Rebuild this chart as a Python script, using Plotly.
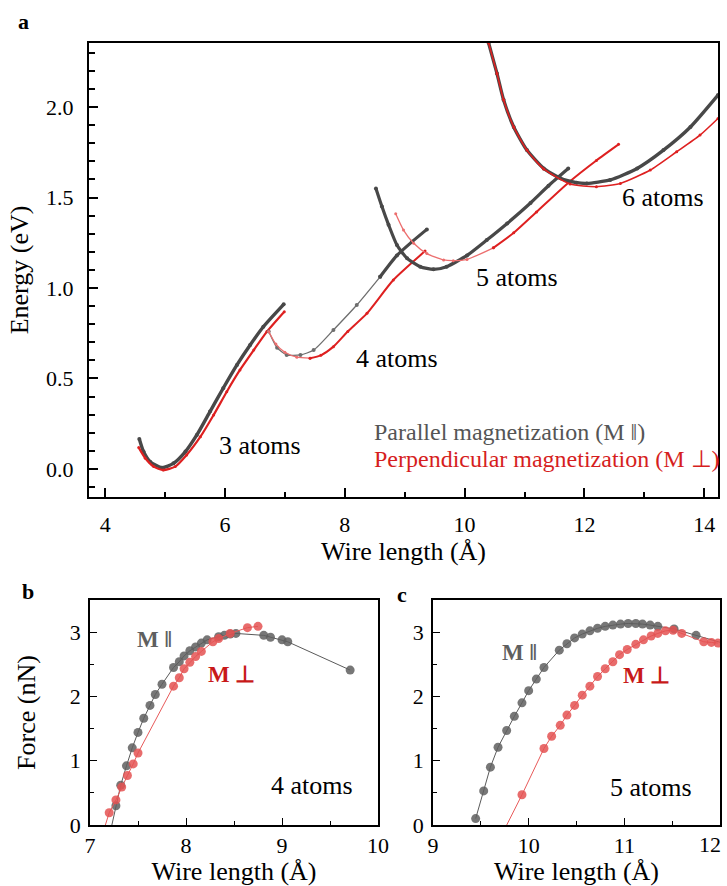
import plotly.graph_objects as go

W, H = 727, 886
FONT = "Liberation Serif, Times New Roman, serif"

GRAY = "rgb(72,72,72)"
GRAY_THIN = "rgb(110,110,110)"
RED = "rgb(222,32,32)"
RED_THIN = "rgb(236,110,110)"
GRAY_DOT = "rgba(95,95,95,0.85)"
RED_DOT = "rgba(228,82,82,0.85)"

# ---- Panel a: energy vs wire length (eV) ----
par3_x = [4.57, 4.64, 4.75, 4.95, 5.14, 5.34, 5.53, 5.75, 5.97, 6.20, 6.42, 6.64, 6.98]
par3_y = [0.166, 0.096, 0.040, 0.007, 0.031, 0.096, 0.188, 0.317, 0.446, 0.575, 0.685, 0.786, 0.910]
perp3_x = [4.56, 4.67, 4.81, 4.97, 5.17, 5.36, 5.59, 5.81, 6.03, 6.25, 6.48, 6.70, 6.99]
perp3_y = [0.118, 0.059, 0.013, -0.006, 0.013, 0.077, 0.178, 0.298, 0.427, 0.547, 0.657, 0.759, 0.869]

par4_x = [6.73, 6.87, 7.03, 7.26, 7.48, 7.81, 8.20, 8.59, 8.87, 9.12, 9.37]
par4_y = [0.760, 0.670, 0.630, 0.630, 0.657, 0.768, 0.906, 1.062, 1.180, 1.255, 1.324]
perp4_x = [6.73, 6.85, 7.00, 7.20, 7.42, 7.60, 7.81, 8.05, 8.37, 8.81, 9.34]
perp4_y = [0.760, 0.690, 0.645, 0.618, 0.612, 0.628, 0.676, 0.760, 0.860, 1.044, 1.204]

par5_x = [8.52, 8.62, 8.73, 8.87, 9.04, 9.26, 9.48, 9.70, 10.04, 10.37, 10.71, 11.10, 11.40, 11.73]
par5_y = [1.550, 1.450, 1.350, 1.238, 1.164, 1.118, 1.103, 1.118, 1.180, 1.265, 1.357, 1.470, 1.565, 1.660]
perp5_x = [8.85, 8.98, 9.15, 9.37, 9.65, 9.81, 10.04, 10.48, 10.82, 11.20, 11.76, 12.20, 12.57]
perp5_y = [1.410, 1.320, 1.247, 1.190, 1.155, 1.151, 1.158, 1.222, 1.305, 1.420, 1.590, 1.705, 1.794]

par6_x = [10.40, 10.54, 10.65, 10.82, 11.04, 11.32, 11.60, 11.87, 12.04, 12.43, 12.88, 13.32, 13.77, 14.23]
par6_y = [2.355, 2.186, 2.040, 1.890, 1.762, 1.661, 1.606, 1.582, 1.578, 1.597, 1.661, 1.762, 1.890, 2.066]
perp6_x = [10.40, 10.54, 10.65, 10.82, 11.04, 11.32, 11.76, 12.20, 12.60, 13.10, 13.54, 13.93, 14.23]
perp6_y = [2.355, 2.186, 2.040, 1.890, 1.762, 1.658, 1.575, 1.560, 1.578, 1.652, 1.753, 1.845, 1.937]

# ---- Panel b: force for the 4-atom wire (nN) ----
fb_par_x = [7.21, 7.27, 7.32, 7.38, 7.44, 7.50, 7.56, 7.625, 7.68, 7.75, 7.87, 7.93, 7.98, 8.04,
            8.10, 8.16, 8.22, 8.34, 8.40, 8.46, 8.52, 8.81, 8.88, 9.00, 9.06, 9.71]
fb_par_y = [-0.12, 0.30, 0.62, 0.92, 1.20, 1.44, 1.66, 1.86, 2.03, 2.19, 2.45, 2.54, 2.63, 2.71,
            2.77, 2.83, 2.88, 2.93, 2.95, 2.97, 2.98, 2.95, 2.92, 2.88, 2.85, 2.41]
fb_perp_x = [7.135, 7.20, 7.27, 7.33, 7.39, 7.45, 7.50, 7.87, 7.93, 7.98, 8.04, 8.10, 8.16,
             8.28, 8.34, 8.46, 8.64, 8.75]
fb_perp_y = [-0.12, 0.19, 0.39, 0.59, 0.77, 0.95, 1.12, 2.16, 2.29, 2.43, 2.53, 2.62, 2.70,
             2.85, 2.90, 2.98, 3.07, 3.09]

# ---- Panel c: force for the 5-atom wire (nN) ----
fc_par_x = [9.446, 9.53, 9.60, 9.68, 9.77, 9.85, 9.93, 10.00, 10.08, 10.16, 10.32, 10.40, 10.48,
            10.56, 10.64, 10.72, 10.80, 10.88, 10.96, 11.04, 11.12, 11.19, 11.27, 11.35, 11.52,
            11.75, 12.10]
fc_par_y = [0.10, 0.53, 0.90, 1.21, 1.47, 1.69, 1.90, 2.09, 2.27, 2.45, 2.72, 2.82, 2.91,
            2.97, 3.02, 3.06, 3.09, 3.11, 3.125, 3.135, 3.135, 3.125, 3.11, 3.09, 3.05,
            2.95, 2.80]
fc_perp_x = [9.73, 9.93, 10.16, 10.24, 10.33, 10.40, 10.48, 10.56, 10.64, 10.72, 10.80, 10.88,
             10.95, 11.03, 11.12, 11.20, 11.28, 11.35, 11.43, 11.51, 11.60, 11.83, 11.91, 11.98]
fc_perp_y = [-0.12, 0.47, 1.19, 1.38, 1.55, 1.71, 1.86, 2.02, 2.16, 2.31, 2.43, 2.54,
             2.65, 2.73, 2.81, 2.88, 2.94, 2.98, 3.02, 3.03, 2.98, 2.85, 2.84, 2.83]

atom_labels = ["3 atoms", "4 atoms", "5 atoms", "6 atoms"]
atom_label_x = [6.59, 8.87, 10.88, 13.32]
atom_label_y = [0.127, 0.613, 1.06, 1.50]

# tick labels of the two force panels; the last label of panel c sits at the page edge,
# so it is written as a separate text nudged inwards
fb_ticks = [7, 8, 9, 10]
fb_ticktext = ["7", "8", "9", "10"]
fc_ticks = [9, 10, 11, 12]
fc_ticktext = ["9", "10", "11", ""]
fc_edge_label = "12"


def px(x):
    return x / W


def py(y):
    return 1 - y / H


fig = go.Figure()


def energy_curve(xs, ys, color, width, msize, thin_color=None, thick_from=0, thin_width=1.3):
    """Sparse (thin) stretch of a curve first, then the densely sampled stretch on top."""
    if thick_from > 0:
        fig.add_trace(go.Scatter(
            x=xs[:thick_from + 1], y=ys[:thick_from + 1], mode="lines+markers",
            xaxis="x", yaxis="y",
            line=dict(color=thin_color, width=thin_width, shape="spline", smoothing=0.6),
            marker=dict(color=thin_color, size=msize),
            showlegend=False, hoverinfo="x+y"))
    fig.add_trace(go.Scatter(
        x=xs[thick_from:], y=ys[thick_from:], mode="lines+markers", xaxis="x", yaxis="y",
        line=dict(color=color, width=width, shape="spline", smoothing=0.6),
        marker=dict(color=color, size=msize),
        showlegend=False, hoverinfo="x+y"))


energy_curve(par3_x, par3_y, GRAY, 3.4, 4)
energy_curve(perp3_x, perp3_y, RED, 2.2, 3)
energy_curve(par4_x, par4_y, GRAY, 3.2, 4, GRAY_THIN, thick_from=7)
energy_curve(perp4_x, perp4_y, RED, 2.0, 3, RED_THIN, thick_from=4)
energy_curve(par5_x, par5_y, GRAY, 3.2, 4)
energy_curve(perp5_x, perp5_y, RED, 2.0, 3, RED_THIN, thick_from=7)
energy_curve(par6_x, par6_y, GRAY, 3.4, 4)
energy_curve(perp6_x, perp6_y, RED, 1.6, 3)


def force_curve(xs, ys, line_color, dot_color, xa, ya):
    fig.add_trace(go.Scatter(
        x=xs, y=ys, mode="lines+markers", xaxis=xa, yaxis=ya,
        line=dict(color=line_color, width=1),
        marker=dict(color=dot_color, size=9),
        showlegend=False, hoverinfo="x+y"))


force_curve(fb_par_x, fb_par_y, "rgb(90,90,90)", GRAY_DOT, "x2", "y2")
force_curve(fb_perp_x, fb_perp_y, "rgb(232,90,90)", RED_DOT, "x2", "y2")
force_curve(fc_par_x, fc_par_y, "rgb(90,90,90)", GRAY_DOT, "x3", "y3")
force_curve(fc_perp_x, fc_perp_y, "rgb(232,90,90)", RED_DOT, "x3", "y3")

tickfont = dict(family=FONT, size=22, color="black")
titlefont = dict(family=FONT, size=26, color="black")


def axis_style(**kw):
    base = dict(showline=True, linecolor="black", mirror=True, ticks="inside",
                tickcolor="black", showgrid=False, zeroline=False, tickfont=tickfont,
                title_font=titlefont, automargin=False)
    base.update(kw)
    return base


fig.update_layout(
    width=W, height=H, autosize=False,
    margin=dict(l=0, r=0, t=0, b=0, autoexpand=False),
    paper_bgcolor="white", plot_bgcolor="white",
    xaxis=axis_style(domain=[px(89), px(718)], anchor="y", range=[3.73, 14.23],
                     tickvals=[4, 6, 8, 10, 12, 14], ticklen=9, tickwidth=1.5, linewidth=2,
                     minor=dict(dtick=1, ticks="inside", ticklen=5, tickwidth=1.5, tickcolor="black"),
                     ticklabelstandoff=7,
                     title=dict(text="Wire length (Å)", standoff=3)),
    yaxis=axis_style(domain=[py(497), py(43)], anchor="x", range=[-0.155, 2.354],
                     tickvals=[0, 0.5, 1.0, 1.5, 2.0], tickformat=".1f", ticklen=9,
                     tickwidth=1.5, linewidth=2,
                     minor=dict(dtick=0.1, ticks="inside", ticklen=6, tickwidth=1.5, tickcolor="black"),
                     ticklabelstandoff=9,
                     title=dict(text="Energy (eV)", standoff=10)),
    xaxis2=axis_style(domain=[px(90), px(378)], anchor="y2", range=[7, 10],
                      tickvals=fb_ticks, ticktext=fb_ticktext, ticklen=7, tickwidth=1, linewidth=1.5,
                      minor=dict(dtick=0.5, ticks="inside", ticklen=4, tickwidth=1, tickcolor="black"),
                      ticklabelstandoff=0,
                      title=dict(text="Wire length (Å)", standoff=6)),
    yaxis2=axis_style(domain=[py(825), py(600)], anchor="x2", range=[0, 3.5],
                      tickvals=[0, 1, 2, 3], ticklen=7, tickwidth=1, linewidth=1.5,
                      minor=dict(dtick=0.5, ticks="inside", ticklen=4, tickwidth=1, tickcolor="black"),
                      ticklabelstandoff=3,
                      title=dict(text="Force (nN)", standoff=27)),
    xaxis3=axis_style(domain=[px(433), px(720)], anchor="y3", range=[9, 12],
                      tickvals=fc_ticks, ticktext=fc_ticktext, ticklen=7, tickwidth=1, linewidth=1.5,
                      minor=dict(dtick=0.5, ticks="inside", ticklen=4, tickwidth=1, tickcolor="black"),
                      ticklabelstandoff=0,
                      title=dict(text="Wire length (Å)", standoff=6)),
    yaxis3=axis_style(domain=[py(825), py(600)], anchor="x3", range=[0, 3.5],
                      tickvals=[0, 1, 2, 3], ticklen=7, tickwidth=1, linewidth=1.5,
                      minor=dict(dtick=0.5, ticks="inside", ticklen=4, tickwidth=1, tickcolor="black"),
                      ticklabelstandoff=3),
)


def paper_text(text, x, y, size, color="black", xanchor="center"):
    return dict(text=text, x=px(x), y=py(y), xref="paper", yref="paper",
                xanchor=xanchor, yanchor="middle", showarrow=False,
                font=dict(family=FONT, size=size, color=color))


def data_text(text, x, y, xr, yr, size, color="black"):
    return dict(text=text, x=x, y=y, xref=xr, yref=yr, xanchor="center", yanchor="middle",
                showarrow=False, font=dict(family=FONT, size=size, color=color))


ann = [data_text(t, x, y, "x", "y", 26) for t, x, y in zip(atom_labels, atom_label_x, atom_label_y)]

ann += [
    paper_text("Parallel magnetization (M ‖)", 372, 432, 24, "rgb(85,85,85)", xanchor="left"),
    paper_text("Perpendicular magnetization (M ⊥)", 372, 459, 24, "rgb(214,30,30)", xanchor="left"),
    paper_text("<b>a</b>", 24, 22, 22),
    paper_text("<b>b</b>", 28, 591, 22),
    paper_text("<b>c</b>", 402, 594, 22),
    paper_text(fc_edge_label, 723, 844, 22, xanchor="right"),
    data_text("<b>M ‖</b>", 7.67, 2.88, "x2", "y2", 23, "rgb(95,95,95)"),
    data_text("<b>M ⊥</b>", 8.47, 2.34, "x2", "y2", 23, "rgb(200,25,25)"),
    data_text("4 atoms", 9.31, 0.61, "x2", "y2", 26),
    data_text("<b>M ‖</b>", 9.90, 2.69, "x3", "y3", 23, "rgb(95,95,95)"),
    data_text("<b>M ⊥</b>", 11.23, 2.33, "x3", "y3", 23, "rgb(200,25,25)"),
    data_text("5 atoms", 11.28, 0.59, "x3", "y3", 26),
]
fig.update_layout(annotations=ann)

fig.write_html("out.html")
